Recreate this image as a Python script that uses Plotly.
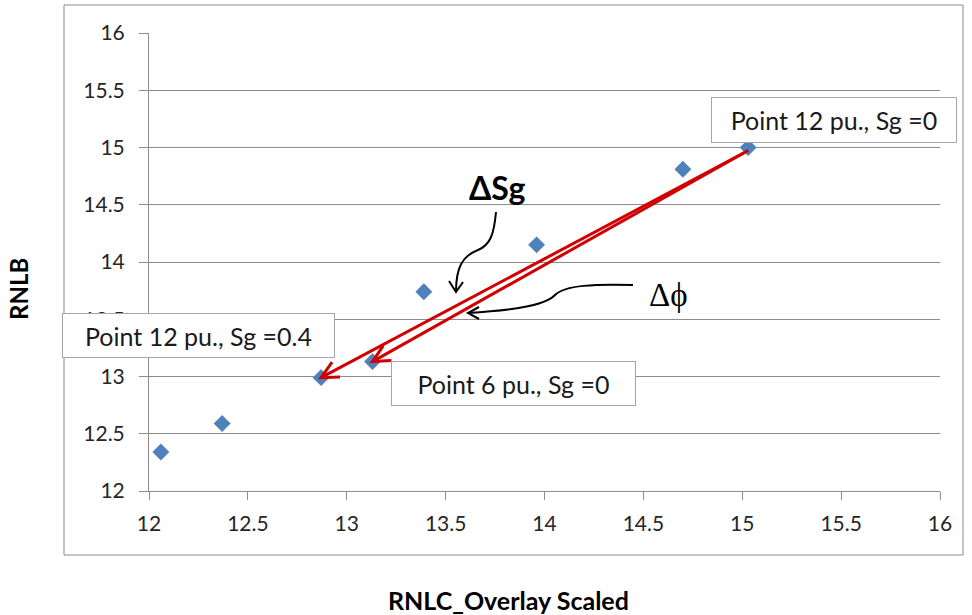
import math
import plotly.graph_objects as go

# ---- data ----
rnlc_scaled = [12.06, 12.37, 12.87, 13.13, 13.39, 13.96, 14.70, 15.03]
rnlb = [12.34, 12.59, 12.99, 13.13, 13.74, 14.15, 14.81, 15.00]
axis_ticks = [12, 12.5, 13, 13.5, 14, 14.5, 15, 15.5, 16]
label_12_sg0 = "Point 12 pu., Sg =0"
label_12_sg04 = "Point 12 pu., Sg =0.4"
label_6_sg0 = "Point 6 pu., Sg =0"

# ---- geometry helpers (layout only) ----
W, H = 972, 615
L, R, T, B = 149, 32, 33, 124
PW, PH = W - L - R, H - T - B
X0, X1, Y0, Y1 = 12, 16, 12, 16


def paper(xp, yp):
    return (xp - L) / PW, (H - B - yp) / PH


def to_px(xd, yd):
    return L + (xd - X0) / (X1 - X0) * PW, (H - B) - (yd - Y0) / (Y1 - Y0) * PH


def dp(xp, yp):
    return f"{X0 + (xp - L) / PW * (X1 - X0):.4f},{Y0 + (H - B - yp) / PH * (Y1 - Y0):.4f}"


FONT = "Lato"
GRID = "#8c8c8c"
RED = "#D00000"

fig = go.Figure()
fig.add_trace(go.Scatter(
    x=rnlc_scaled, y=rnlb, mode="markers",
    marker=dict(symbol="diamond", size=13, color="#4F81BD", line=dict(width=0)),
    showlegend=False, hoverinfo="x+y",
))

annotations = []
shapes = []

# red arrows from point 12 pu., Sg=0 to the two other points (open V heads)
tx, ty = to_px(rnlc_scaled[7], rnlb[7])
for tip in (2, 3):
    hx, hy = to_px(rnlc_scaled[tip], rnlb[tip])
    shapes.append(dict(type="path", xref="x", yref="y",
                       path=f"M {dp(tx, ty + 3)} L {dp(hx, hy)}",
                       line=dict(color=RED, width=3)))
    ang = math.atan2(ty - hy, tx - hx)
    arms = []
    for s in (-1, 1):
        a = ang + s * math.radians(26)
        arms.append((hx + 19 * math.cos(a), hy + 19 * math.sin(a)))
    shapes.append(dict(type="path", xref="x", yref="y",
                       path=f"M {dp(*arms[0])} L {dp(hx, hy)} L {dp(*arms[1])}",
                       line=dict(color=RED, width=3)))

# label boxes
for text, cx, cy, bw, bh in [
    (label_12_sg0, 834, 120, 246, 46),
    (label_12_sg04, 198.5, 335.5, 273, 45),
    (label_6_sg0, 513.5, 383.5, 245, 45),
]:
    px_, py_ = paper(cx, cy)
    annotations.append(dict(
        x=px_, y=py_, xref="paper", yref="paper", xanchor="center", yanchor="middle",
        text=text, showarrow=False, width=bw - 2, height=bh - 2,
        bgcolor="white", bordercolor="#a6a6a6", borderwidth=1, borderpad=0,
        font=dict(family=FONT, size=25, color="#1a1a1a"),
    ))

# delta labels
xs, ys = paper(497, 187)
annotations.append(dict(x=xs, y=ys, xref="paper", yref="paper", text="<b>ΔSg</b>",
                        xanchor="center", yanchor="middle",
                        showarrow=False, font=dict(family=FONT, size=32, color="black")))
xs, ys = paper(668, 295)
annotations.append(dict(x=xs, y=ys, xref="paper", yref="paper", text="Δϕ",
                        xanchor="center", yanchor="middle",
                        showarrow=False, font=dict(family="Liberation Serif", size=33, color="black")))

# axis titles
xs, ys = paper(508, 600)
annotations.append(dict(x=xs, y=ys, xref="paper", yref="paper", text="<b>RNLC_Overlay Scaled</b>",
                        xanchor="center", yanchor="middle",
                        showarrow=False, font=dict(family=FONT, size=25, color="black")))
xs, ys = paper(18, 289)
annotations.append(dict(x=xs, y=ys, xref="paper", yref="paper", text="<b>RNLB</b>", textangle=-90,
                        xanchor="center", yanchor="middle",
                        showarrow=False, font=dict(family=FONT, size=24, color="black")))

# outer chart border
bx0, by0 = paper(64, 555)
bx1, by1 = paper(963, 5)
shapes.append(dict(type="rect", xref="paper", yref="paper", x0=bx0, y0=by0, x1=bx1, y1=by1,
                   line=dict(color="#8c8c8c", width=1), layer="below"))
# black curved arrows
curve_sg = f"M {dp(496,212)} C {dp(494,235)} {dp(490,245)} {dp(478,250)} C {dp(462,256)} {dp(456,268)} {dp(456,292)}"
head_sg = f"M {dp(449,281)} L {dp(456,292)} L {dp(463,282)}"
curve_phi = f"M {dp(633,285)} C {dp(595,284)} {dp(565,285)} {dp(555,295)} C {dp(545,306)} {dp(505,311)} {dp(468,313)}"
head_phi = f"M {dp(479,307)} L {dp(468,313)} L {dp(479,319)}"
for pth in (curve_sg, head_sg, curve_phi, head_phi):
    shapes.append(dict(type="path", xref="x", yref="y", path=pth,
                       line=dict(color="black", width=2)))

fig.update_layout(
    width=W, height=H,
    margin=dict(l=L, r=R, t=T, b=B, pad=0),
    paper_bgcolor="white", plot_bgcolor="white",
    font=dict(family=FONT, color="#1a1a1a"),
    xaxis=dict(range=[X0, X1], tickvals=axis_ticks, showgrid=False, zeroline=False,
               showline=True, linecolor=GRID, linewidth=1,
               ticks="outside", ticklen=8, tickcolor=GRID, tickwidth=1,
               tickfont=dict(family=FONT, size=21, color="#262626"), ticklabelstandoff=6),
    yaxis=dict(range=[Y0, Y1], tickvals=axis_ticks, showgrid=True, gridcolor=GRID, gridwidth=1,
               zeroline=False, showline=True, linecolor=GRID, linewidth=1,
               ticks="outside", ticklen=9, tickcolor=GRID, tickwidth=1,
               tickfont=dict(family=FONT, size=21, color="#262626"), ticklabelstandoff=10),
    annotations=annotations, shapes=shapes, showlegend=False,
)

fig.write_html("out.html", config={"displayModeBar": False},
               post_script="document.body.style.margin='0';")
